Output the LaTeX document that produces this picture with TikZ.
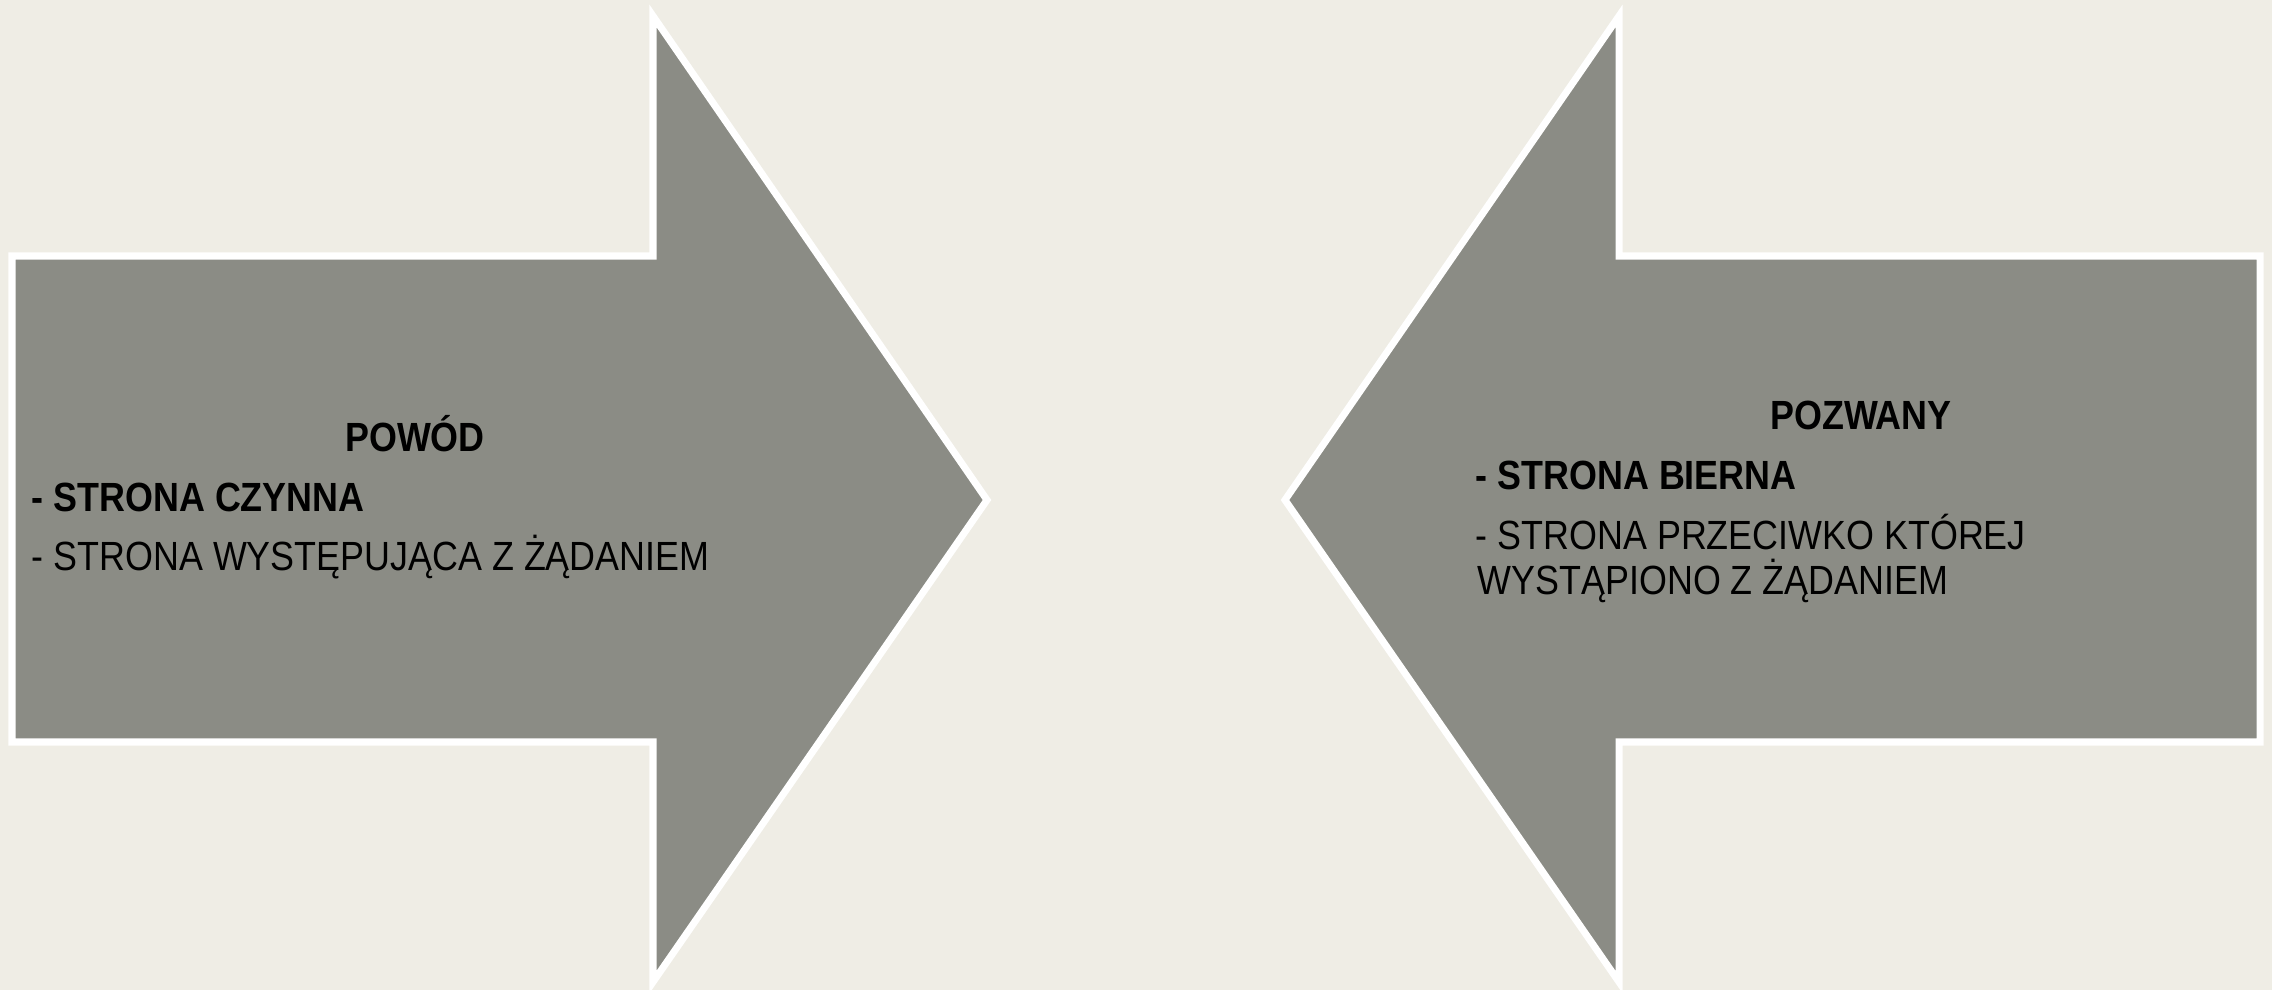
\documentclass[tikz,border=0pt]{standalone}
\usepackage{fontspec}
\setmainfont{Liberation Sans}[FakeStretch=0.88]
\usepackage{tkz-euclide}
\definecolor{BackClr}{RGB}{239,237,229}
\definecolor{ArrowClr}{RGB}{139,140,133}
\tikzset{
  txt/.style={inner sep=0pt,text=black,font=\fontsize{11.6}{13}\selectfont},
  boldtxt/.style={txt,font=\fontsize{11.6}{13}\selectfont\bfseries}
}
\begin{document}
\begin{tikzpicture}
\fill[BackClr] (0,0) rectangle (22.72,9.90);
\useasboundingbox (0,0) rectangle (22.72,9.90);

% left arrow (powod)
\tkzDefPoints{0.12/7.34/A,6.53/7.34/B,6.53/9.74/C,9.87/4.90/D,6.53/0.08/E,6.53/2.48/F,0.12/2.48/G}
% right arrow (pozwany)
\tkzDefPoints{22.60/7.34/P,16.19/7.34/Q,16.19/9.74/R,12.85/4.90/S,16.19/0.08/T,16.19/2.48/U,22.60/2.48/V}

\tkzDrawPolygon[fill=ArrowClr,draw=white,line width=2pt,line join=miter](A,B,C,D,E,F,G)
\tkzDrawPolygon[fill=ArrowClr,draw=white,line width=2pt,line join=miter](P,Q,R,S,T,U,V)

\node[boldtxt,anchor=base] (powod) at (4.15,5.38) {POWÓD};
\node[boldtxt,anchor=base west] (czynna) at (0.31,4.78) {- STRONA CZYNNA};
\node[txt,anchor=base west] (zadanie) at (0.31,4.19) {- STRONA WYSTĘPUJĄCA Z ŻĄDANIEM};

\node[boldtxt,anchor=base] (pozwany) at (18.61,5.60) {POZWANY};
\node[boldtxt,anchor=base west] (bierna) at (14.75,5.00) {- STRONA BIERNA};
\node[txt,anchor=base west] (przeciwko) at (14.75,4.40) {- STRONA PRZECIWKO KTÓREJ};
\node[txt,anchor=base west] (wystapiono) at (14.77,3.95) {WYSTĄPIONO Z ŻĄDANIEM};

\end{tikzpicture}
\end{document}
